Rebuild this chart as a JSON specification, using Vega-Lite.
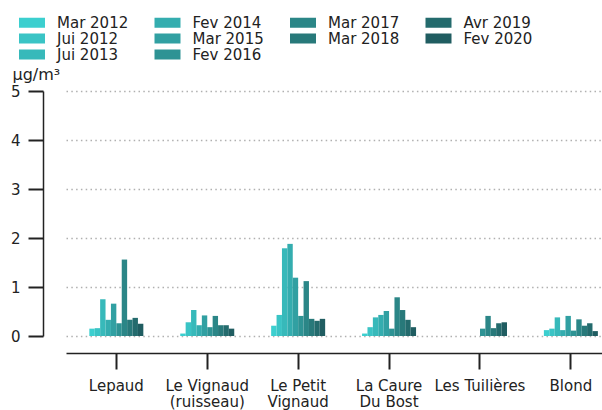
{
  "$schema": "https://vega.github.io/schema/vega-lite/v6.json",
  "autosize": {"type": "none"},
  "padding": {"left": 66, "top": 91, "right": 0, "bottom": 74},
  "width": 536,
  "height": 245,
  "background": "white",
  "config": {
    "font": "DejaVu Sans",
    "view": {"stroke": null},
    "axis": {"labelFont": "DejaVu Sans", "titleFont": "DejaVu Sans", "labelColor": "#222222", "titleColor": "#222222"}
  },
  "data": {
    "values": [
      {"site": "Lepaud", "campagne": "Mar 2012", "value": 0.15},
      {"site": "Lepaud", "campagne": "Jui 2012", "value": 0.16},
      {"site": "Lepaud", "campagne": "Jui 2013", "value": 0.75},
      {"site": "Lepaud", "campagne": "Fev 2014", "value": 0.33},
      {"site": "Lepaud", "campagne": "Mar 2015", "value": 0.66},
      {"site": "Lepaud", "campagne": "Fev 2016", "value": 0.26},
      {"site": "Lepaud", "campagne": "Mar 2017", "value": 1.56},
      {"site": "Lepaud", "campagne": "Mar 2018", "value": 0.33},
      {"site": "Lepaud", "campagne": "Avr 2019", "value": 0.37},
      {"site": "Lepaud", "campagne": "Fev 2020", "value": 0.25},
      {"site": "Le Vignaud (ruisseau)", "campagne": "Mar 2012", "value": 0.05},
      {"site": "Le Vignaud (ruisseau)", "campagne": "Jui 2012", "value": 0.28},
      {"site": "Le Vignaud (ruisseau)", "campagne": "Jui 2013", "value": 0.53},
      {"site": "Le Vignaud (ruisseau)", "campagne": "Fev 2014", "value": 0.22},
      {"site": "Le Vignaud (ruisseau)", "campagne": "Mar 2015", "value": 0.42},
      {"site": "Le Vignaud (ruisseau)", "campagne": "Fev 2016", "value": 0.18},
      {"site": "Le Vignaud (ruisseau)", "campagne": "Mar 2017", "value": 0.41},
      {"site": "Le Vignaud (ruisseau)", "campagne": "Mar 2018", "value": 0.22},
      {"site": "Le Vignaud (ruisseau)", "campagne": "Avr 2019", "value": 0.22},
      {"site": "Le Vignaud (ruisseau)", "campagne": "Fev 2020", "value": 0.15},
      {"site": "Le Petit Vignaud", "campagne": "Mar 2012", "value": 0.21},
      {"site": "Le Petit Vignaud", "campagne": "Jui 2012", "value": 0.43},
      {"site": "Le Petit Vignaud", "campagne": "Jui 2013", "value": 1.79},
      {"site": "Le Petit Vignaud", "campagne": "Fev 2014", "value": 1.88},
      {"site": "Le Petit Vignaud", "campagne": "Mar 2015", "value": 1.19},
      {"site": "Le Petit Vignaud", "campagne": "Fev 2016", "value": 0.41},
      {"site": "Le Petit Vignaud", "campagne": "Mar 2017", "value": 1.12},
      {"site": "Le Petit Vignaud", "campagne": "Mar 2018", "value": 0.35},
      {"site": "Le Petit Vignaud", "campagne": "Avr 2019", "value": 0.31},
      {"site": "Le Petit Vignaud", "campagne": "Fev 2020", "value": 0.35},
      {"site": "La Caure Du Bost", "campagne": "Mar 2012", "value": 0.05},
      {"site": "La Caure Du Bost", "campagne": "Jui 2012", "value": 0.18},
      {"site": "La Caure Du Bost", "campagne": "Jui 2013", "value": 0.38},
      {"site": "La Caure Du Bost", "campagne": "Fev 2014", "value": 0.43},
      {"site": "La Caure Du Bost", "campagne": "Mar 2015", "value": 0.51},
      {"site": "La Caure Du Bost", "campagne": "Fev 2016", "value": 0.15},
      {"site": "La Caure Du Bost", "campagne": "Mar 2017", "value": 0.79},
      {"site": "La Caure Du Bost", "campagne": "Mar 2018", "value": 0.53},
      {"site": "La Caure Du Bost", "campagne": "Avr 2019", "value": 0.33},
      {"site": "La Caure Du Bost", "campagne": "Fev 2020", "value": 0.18},
      {"site": "Les Tuilières", "campagne": "Fev 2016", "value": 0.15},
      {"site": "Les Tuilières", "campagne": "Mar 2017", "value": 0.41},
      {"site": "Les Tuilières", "campagne": "Mar 2018", "value": 0.16},
      {"site": "Les Tuilières", "campagne": "Avr 2019", "value": 0.26},
      {"site": "Les Tuilières", "campagne": "Fev 2020", "value": 0.28},
      {"site": "Blond", "campagne": "Mar 2012", "value": 0.12},
      {"site": "Blond", "campagne": "Jui 2012", "value": 0.15},
      {"site": "Blond", "campagne": "Jui 2013", "value": 0.38},
      {"site": "Blond", "campagne": "Fev 2014", "value": 0.12},
      {"site": "Blond", "campagne": "Mar 2015", "value": 0.41},
      {"site": "Blond", "campagne": "Fev 2016", "value": 0.11},
      {"site": "Blond", "campagne": "Mar 2017", "value": 0.34},
      {"site": "Blond", "campagne": "Mar 2018", "value": 0.21},
      {"site": "Blond", "campagne": "Avr 2019", "value": 0.26},
      {"site": "Blond", "campagne": "Fev 2020", "value": 0.10}
    ]
  },
  "mark": {"type": "bar", "strokeWidth": 0},
  "encoding": {
    "x": {
      "field": "site",
      "type": "nominal",
      "sort": ["Lepaud", "Le Vignaud (ruisseau)", "Le Petit Vignaud", "La Caure Du Bost", "Les Tuilières", "Blond"],
      "scale": {"paddingInner": 0.406, "paddingOuter": 0.151, "align": 0.85},
      "axis": {
        "title": null,
        "offset": 17,
        "labelAngle": 0,
        "labelFontSize": 15,
        "labelPadding": 9,
        "labelBaseline": "top",
        "labelLineHeight": 16,
        "labelExpr": "datum.label == 'Le Vignaud (ruisseau)' ? ['Le Vignaud', '(ruisseau)'] : datum.label == 'Le Petit Vignaud' ? ['Le Petit', 'Vignaud'] : datum.label == 'La Caure Du Bost' ? ['La Caure', 'Du Bost'] : datum.label",
        "domainColor": "#222222",
        "domainWidth": 1.5,
        "tickColor": "#222222",
        "tickWidth": 2,
        "tickSize": 16,
        "grid": false
      }
    },
    "xOffset": {
      "field": "campagne",
      "type": "nominal",
      "sort": ["Mar 2012", "Jui 2012", "Jui 2013", "Fev 2014", "Mar 2015", "Fev 2016", "Mar 2017", "Mar 2018", "Avr 2019", "Fev 2020"],
      "scale": {"paddingInner": 0, "paddingOuter": 0}
    },
    "y": {
      "field": "value",
      "type": "quantitative",
      "scale": {"domain": [0, 5], "nice": false},
      "axis": {
        "title": "µg/m³",
        "titleAngle": 0,
        "titleAlign": "left",
        "titleBaseline": "alphabetic",
        "titleFontSize": 16,
        "titleFontWeight": "normal",
        "titleX": -31,
        "titleY": -12,
        "offset": 23,
        "values": [0, 1, 2, 3, 4, 5],
        "format": "d",
        "labelFontSize": 15,
        "labelPadding": 8,
        "domainColor": "#222222",
        "domainWidth": 1.5,
        "tickColor": "#222222",
        "tickWidth": 2,
        "tickSize": 15,
        "grid": true,
        "gridColor": "#b0b0b0",
        "gridDash": [1.5, 3.3],
        "gridWidth": 1.5
      }
    },
    "color": {
      "field": "campagne",
      "type": "nominal",
      "scale": {
        "domain": ["Mar 2012", "Fev 2014", "Mar 2017", "Avr 2019", "Jui 2012", "Mar 2015", "Mar 2018", "Fev 2020", "Jui 2013", "Fev 2016"],
        "range": ["#3ccfcf", "#34adaf", "#2b8687", "#246b6d", "#3ac4c5", "#31a0a2", "#28797a", "#205d61", "#37b9ba", "#2e9394"]
      },
      "legend": {
        "title": null,
        "orient": "none",
        "direction": "horizontal",
        "legendX": -41.5,
        "legendY": -76,
        "columns": 4,
        "gridAlign": "all",
        "columnPadding": 25.5,
        "rowPadding": -1.5,
        "symbolType": "M-2,-0.77H2V0.77H-2Z",
        "symbolSize": 169,
        "symbolStrokeWidth": 0,
        "symbolOpacity": 1,
        "labelFontSize": 15,
        "labelColor": "#222222",
        "labelOffset": 17.5,
        "labelFont": "DejaVu Sans"
      }
    }
  }
}
